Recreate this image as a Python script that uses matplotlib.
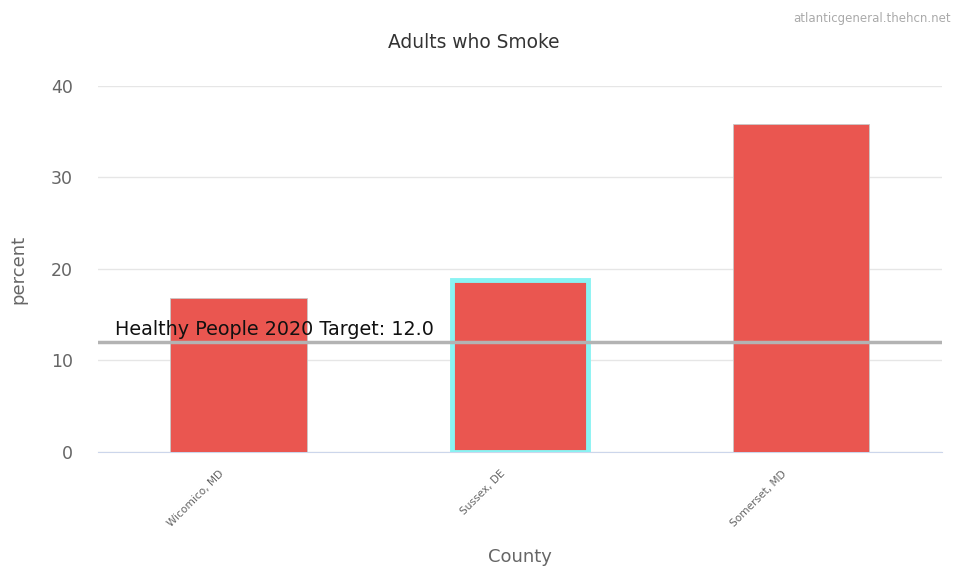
import numpy as np
import matplotlib.pyplot as plt
from matplotlib.transforms import ScaledTranslation

plt.rcParams["font.family"] = ["DejaVu Sans"]

counties = ["Wicomico, MD", "Sussex, DE", "Somerset, MD"]
percent = [16.8, 18.8, 35.8]
target = 12.0
highlight = "Sussex, DE"

fig = plt.figure(figsize=(9.56, 5.69), dpi=100)
ax = fig.add_axes([0.1025, 0.2056, 0.8825, 0.6435])

x = np.arange(len(counties))
bars = ax.bar(x, percent, width=0.485, color="#EA5650", edgecolor="#c8c8c8", linewidth=0.6, zorder=3)
for b, name in zip(bars, counties):
    if name == highlight:
        b.set_edgecolor("#8AF3F3")
        b.set_linewidth(3.5)

ax.axhline(target, color="#b3b3b3", linewidth=2.5, zorder=4)
ax.text(-0.44, target + 0.4, "Healthy People 2020 Target: %.1f" % target,
        fontsize=13.8, color="#111111", va="bottom", ha="left", zorder=5)

ax.set_xlim(-0.5, 2.5)
ax.set_ylim(0, 40)
ax.set_yticks([0, 10, 20, 30, 40])
ax.grid(axis="y", color="#e6e6e6", linewidth=1, zorder=0)
ax.set_axisbelow(True)
for s in ["top", "right", "left"]:
    ax.spines[s].set_visible(False)
ax.spines["bottom"].set_color("#ccd6eb")
ax.tick_params(axis="y", length=0, labelsize=12.5, labelcolor="#666666", pad=18)
ax.tick_params(axis="x", length=0, pad=12)
ax.set_xticks(x)
ax.set_xticklabels(counties, rotation=45, ha="right", rotation_mode="anchor",
                   fontsize=7.6, color="#666666")
# shift the rotated labels a bit to the left, like the original
for lbl in ax.get_xticklabels():
    lbl.set_transform(lbl.get_transform() + ScaledTranslation(-0.2, 0, fig.dpi_scale_trans))

ax.set_ylabel("percent", fontsize=13, color="#666666", labelpad=17)
ax.set_xlabel("County", fontsize=13, color="#666666", labelpad=14)
fig.text(0.496, 0.926, "Adults who Smoke", fontsize=13.4, color="#333333", ha="center", va="center")
fig.text(0.995, 0.968, "atlanticgeneral.thehcn.net", fontsize=8.5, color="#aaaaaa", ha="right", va="center")

fig.savefig("out.png", dpi=100)
